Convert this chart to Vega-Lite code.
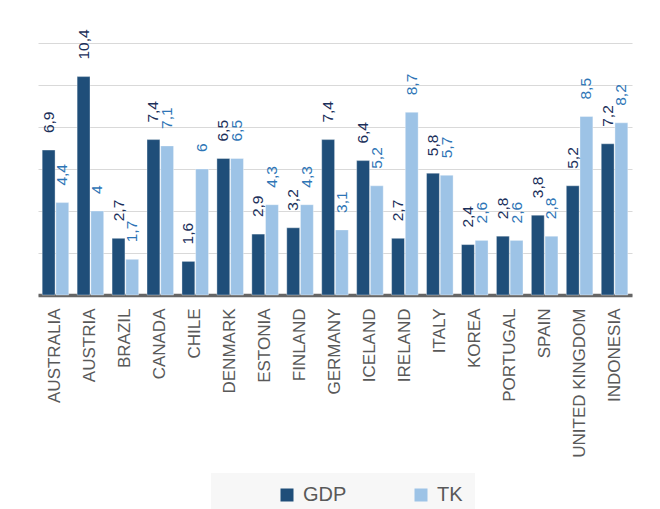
{
  "$schema": "https://vega.github.io/schema/vega-lite/v6.json",
  "width": 594,
  "height": 252,
  "autosize": {"type": "none"},
  "padding": {"left": 38, "top": 43, "right": 28, "bottom": 214},
  "background": "white",
  "config": {
    "font": "Liberation Sans",
    "view": {"stroke": null},
    "locale": {"number": {"decimal": ",", "thousands": ".", "grouping": [3], "currency": ["", ""]}}
  },
  "data": {
    "values": [
      {"country": "AUSTRALIA", "series": "GDP", "value": 6.9},
      {"country": "AUSTRALIA", "series": "TK", "value": 4.4},
      {"country": "AUSTRIA", "series": "GDP", "value": 10.4},
      {"country": "AUSTRIA", "series": "TK", "value": 4},
      {"country": "BRAZIL", "series": "GDP", "value": 2.7},
      {"country": "BRAZIL", "series": "TK", "value": 1.7},
      {"country": "CANADA", "series": "GDP", "value": 7.4},
      {"country": "CANADA", "series": "TK", "value": 7.1},
      {"country": "CHILE", "series": "GDP", "value": 1.6},
      {"country": "CHILE", "series": "TK", "value": 6},
      {"country": "DENMARK", "series": "GDP", "value": 6.5},
      {"country": "DENMARK", "series": "TK", "value": 6.5},
      {"country": "ESTONIA", "series": "GDP", "value": 2.9},
      {"country": "ESTONIA", "series": "TK", "value": 4.3},
      {"country": "FINLAND", "series": "GDP", "value": 3.2},
      {"country": "FINLAND", "series": "TK", "value": 4.3},
      {"country": "GERMANY", "series": "GDP", "value": 7.4},
      {"country": "GERMANY", "series": "TK", "value": 3.1},
      {"country": "ICELAND", "series": "GDP", "value": 6.4},
      {"country": "ICELAND", "series": "TK", "value": 5.2},
      {"country": "IRELAND", "series": "GDP", "value": 2.7},
      {"country": "IRELAND", "series": "TK", "value": 8.7},
      {"country": "ITALY", "series": "GDP", "value": 5.8},
      {"country": "ITALY", "series": "TK", "value": 5.7},
      {"country": "KOREA", "series": "GDP", "value": 2.4},
      {"country": "KOREA", "series": "TK", "value": 2.6},
      {"country": "PORTUGAL", "series": "GDP", "value": 2.8},
      {"country": "PORTUGAL", "series": "TK", "value": 2.6},
      {"country": "SPAIN", "series": "GDP", "value": 3.8},
      {"country": "SPAIN", "series": "TK", "value": 2.8},
      {"country": "UNITED KINGDOM", "series": "GDP", "value": 5.2},
      {"country": "UNITED KINGDOM", "series": "TK", "value": 8.5},
      {"country": "INDONESIA", "series": "GDP", "value": 7.2},
      {"country": "INDONESIA", "series": "TK", "value": 8.2}
    ]
  },
  "encoding": {
    "x": {
      "field": "country",
      "type": "nominal",
      "sort": null,
      "scale": {"paddingInner": 0.24, "paddingOuter": 0.12},
      "axis": {
        "title": null,
        "labelAngle": -90,
        "labelFontSize": 17,
        "labelColor": "#595959",
        "labelPadding": 13,
        "ticks": false,
        "domainColor": "#666666",
        "domainWidth": 3.5,
        "labelLimit": 300
      }
    },
    "xOffset": {"field": "series", "type": "nominal", "sort": ["GDP", "TK"], "scale": {"paddingInner": 0.06}},
    "y": {
      "field": "value",
      "type": "quantitative",
      "scale": {"domain": [0, 12], "nice": false},
      "axis": {
        "title": null,
        "values": [0, 2, 4, 6, 8, 10, 12],
        "labels": false,
        "ticks": false,
        "domain": false,
        "gridColor": "#d9d9d9",
        "gridWidth": 1.2
      }
    }
  },
  "layer": [
    {
      "mark": {"type": "bar", "stroke": "white", "strokeOpacity": 0.35, "strokeWidth": 1},
      "encoding": {
        "color": {
          "field": "series",
          "type": "nominal",
          "scale": {"domain": ["GDP", "TK"], "range": ["#1f4e79", "#9dc3e6"]},
          "legend": {
            "title": null,
            "orient": "none",
            "legendX": 173,
            "legendY": 430,
            "direction": "horizontal",
            "symbolType": "square",
            "symbolSize": 169,
            "symbolStrokeWidth": 0,
            "labelFontSize": 20,
            "labelColor": "#595959",
            "labelOffset": 6,
            "columnPadding": 10,
            "fillColor": "#f7f7f7",
            "padding": 12,
            "symbolOffset": 54
          }
        }
      }
    },
    {
      "mark": {"type": "text", "angle": 270, "align": "left", "baseline": "middle", "dx": 17, "fontSize": 15.5},
      "encoding": {
        "text": {"field": "value", "type": "quantitative", "format": ".1~f"},
        "color": {
          "field": "series",
          "type": "nominal",
          "scale": {"domain": ["GDP", "TK"], "range": ["#1a2f5a", "#2e75b6"]},
          "legend": null
        }
      }
    }
  ],
  "resolve": {"scale": {"color": "independent"}}
}
